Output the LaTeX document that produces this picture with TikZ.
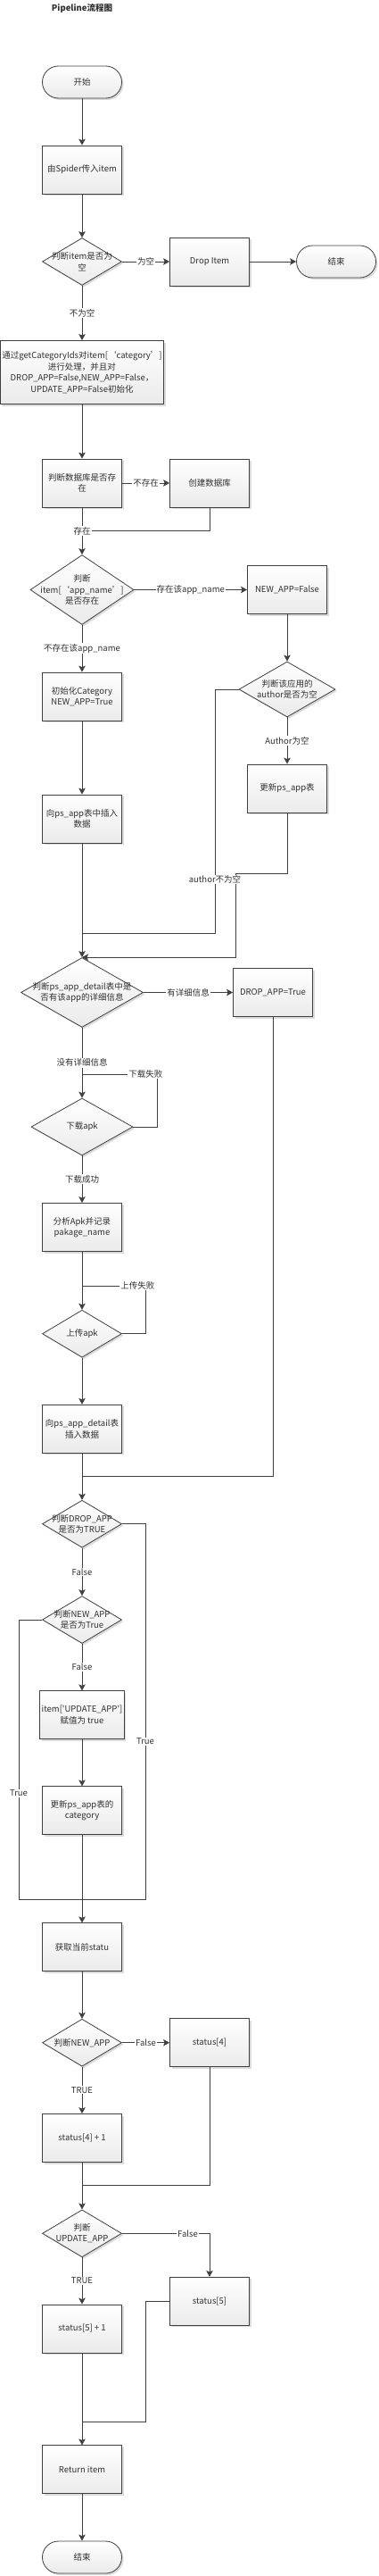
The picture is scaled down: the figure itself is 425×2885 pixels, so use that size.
\documentclass[tikz,border=0pt]{standalone}
\usepackage{fontspec}
\newfontfamily\cjk{Noto Sans CJK SC}
\usepackage{tikz}
\usetikzlibrary{positioning, arrows.meta, calc, shapes.geometric, shadows}

\definecolor{lineclr}{HTML}{404040}
\definecolor{txtclr}{HTML}{303030}

\begin{document}
\begin{tikzpicture}[x=1pt, y=-1pt,
        every node/.style={font=\cjk\fontsize{9.5}{12.5}\selectfont, text=txtclr},
        box/.style={rectangle, draw=lineclr, line width=0.8pt, top color=white, bottom color=black!8,
            minimum width=89pt, minimum height=54pt, inner sep=2pt, align=center,
            drop shadow={shadow xshift=2pt, shadow yshift=-2pt, fill=black!14, opacity=1}},
        terminal/.style={box, rounded corners=18pt, minimum height=36pt},
        decision/.style={box, diamond, minimum height=53pt, inner xsep=-30pt, inner ysep=-4pt},
        lbl/.style={fill=white, inner sep=1pt},
        link/.style={draw=lineclr, line width=0.8pt},
        flow/.style={link, -{Stealth[length=7pt, width=7.5pt, inset=1.5pt]}},
    ]
    \useasboundingbox (0,0) rectangle (425,2885);
    \node[font=\cjk\bfseries\fontsize{9.5}{12.5}\selectfont] (title) at (92,9) {Pipeline流程图};

    % Top part
    \node[terminal] (start) at (92,92) {开始};
    \node[box] (spider) at (92,190) {由Spider传入item};
    \node[decision] (isEmpty) at (92,293) {判断item是否为\\空};
    \node[box] (dropItem) at (235,293) {Drop Item};
    \node[terminal] (endA) at (377,293) {结束};
    \node[box, minimum width=182pt, minimum height=71pt] (initFlags) at (92,417)
        {通过getCategoryIds对item[‘category’]\\进行处理，并且对\\DROP\_APP=False,NEW\_APP=False，\\UPDATE\_APP=False初始化};

    % Database and app_name
    \node[box] (dbCheck) at (92,541) {判断数据库是否存\\在};
    \node[box] (dbCreate) at (235,541) {创建数据库};
    \node[decision, minimum width=116pt, minimum height=78pt] (nameCheck) at (92,660.5) {判断\\item[‘app\_name’]\\是否存在};
    \node[box] (newFalse) at (322,660.5) {NEW\_APP=False};
    \node[box] (initCat) at (92,780) {初始化Category\\NEW\_APP=True};
    \node[box] (insertApp) at (92,917) {向ps\_app表中插入\\数据};
    \node[decision, minimum width=108pt, minimum height=62pt] (authorCheck) at (322,772) {判断该应用的\\author是否为空};
    \node[box] (updateApp) at (322,883) {更新ps\_app表};

    % Detail, download, upload
    \node[decision, minimum width=137pt, minimum height=78pt] (detailCheck) at (92,1111.5) {判断ps\_app\_detail表中是\\否有该app的详细信息};
    \node[box] (dropTrue) at (306,1111.5) {DROP\_APP=True};
    \node[decision, minimum width=114pt, minimum height=64pt] (download) at (92,1262) {下载apk};
    \node[box] (parseApk) at (92,1374.5) {分析Apk并记录\\pakage\_name};
    \node[decision] (upload) at (92,1493.7) {上传apk};
    \node[box] (insertDetail) at (92,1600.3) {向ps\_app\_detail表\\插入数据};

    % Flags
    \node[decision] (dropCheck) at (92,1706.7) {判断DROP\_APP\\是否为TRUE};
    \node[decision] (newCheck) at (92,1814) {判断NEW\_APP\\是否为True};
    \node[box] (setUpdate) at (92,1920.8) {item['UPDATE\_APP']\\赋值为 true};
    \node[box] (updateCat) at (92,2027.8) {更新ps\_app表的\\category};

    % Status
    \node[box] (getStatu) at (92,2180.8) {获取当前statu};
    \node[decision] (newCheckB) at (92,2287.7) {判断NEW\_APP};
    \node[box] (statusFour) at (235,2287.7) {status[4]};
    \node[box] (statusFourInc) at (92,2394.5) {status[4] + 1};
    \node[decision] (updCheck) at (92,2501.3) {判断\\UPDATE\_APP};
    \node[box] (statusFive) at (235,2577.3) {status[5]};
    \node[box] (statusFiveInc) at (92,2608) {status[5] + 1};
    \node[box] (retItem) at (92,2765.8) {Return item};
    \node[terminal] (endB) at (92,2864) {结束};

    % Bends and joins
    \coordinate (dbJoin) at (92,594);
    \coordinate (uBend) at (264,978);
    \coordinate (aBend) at (241,1045);
    \coordinate (aJoin) at (92,1045);
    \coordinate (dlBend) at (176,1203);
    \coordinate (dlJoin) at (92,1203);
    \coordinate (upBend) at (163,1440);
    \coordinate (upJoin) at (92,1440);
    \coordinate (dtJoin) at (92,1653);
    \coordinate (dcBend) at (163,2127);
    \coordinate (ncBend) at (21,2127);
    \coordinate (dcJoin) at (92,2127);
    \coordinate (s4Join) at (92,2447);
    \coordinate (s5Bend) at (163,2712);
    \coordinate (s5Join) at (92,2712);

    % Connectors
    \draw[flow] (start.south) -- (spider.north);
    \draw[flow] (spider.south) -- (isEmpty.north);
    \draw[flow] (isEmpty.east) -- node[lbl] {为空} (dropItem.west);
    \draw[flow] (dropItem.east) -- (endA.west);
    \draw[flow] (isEmpty.south) -- node[lbl] {不为空} (initFlags.north);
    \draw[flow] (initFlags.south) -- (dbCheck.north);
    \draw[flow] (dbCheck.east) -- node[lbl] {不存在} (dbCreate.west);
    \draw[link] (dbCreate.south) |- (dbJoin);
    \draw[flow] (dbCheck.south) -- node[lbl] {存在} (nameCheck.north);
    \draw[flow] (nameCheck.east) -- node[lbl] {存在该app\_name} (newFalse.west);
    \draw[flow] (nameCheck.south) -- node[lbl] {不存在该app\_name} (initCat.north);
    \draw[flow] (initCat.south) -- (insertApp.north);
    \draw[flow] (newFalse.south) -- (authorCheck.north);
    \draw[flow] (authorCheck.south) -- node[lbl] {Author为空} (updateApp.north);
    \draw[flow] (insertApp.south) -- (detailCheck.north);
    \draw[flow] (updateApp.south) |- (uBend) |- (detailCheck.north);
    \draw[link] (authorCheck.west) -| node[lbl, pos=0.89] {author不为空} (aBend) -- (aJoin);
    \draw[flow] (detailCheck.east) -- node[lbl] {有详细信息} (dropTrue.west);
    \draw[flow] (detailCheck.south) -- node[lbl] {没有详细信息} (download.north);
    \draw[link] (download.east) -| (dlBend) -- node[lbl, pos=0.15] {下载失败} (dlJoin);
    \draw[flow] (download.south) -- node[lbl] {下载成功} (parseApk.north);
    \draw[flow] (parseApk.south) -- (upload.north);
    \draw[link] (upload.east) -| (upBend) -- node[lbl, pos=0.12] {上传失败} (upJoin);
    \draw[flow] (upload.south) -- (insertDetail.north);
    \draw[flow] (insertDetail.south) -- (dropCheck.north);
    \draw[link] (dropTrue.south) |- (dtJoin);
    \draw[flow] (dropCheck.south) -- node[lbl] {False} (newCheck.north);
    \draw[link] (dropCheck.east) -| node[lbl, pos=0.79] {True} (dcBend) -- (dcJoin);
    \draw[link] (newCheck.west) -| node[lbl, pos=0.81] {True} (ncBend) -- (dcJoin);
    \draw[flow] (newCheck.south) -- node[lbl] {False} (setUpdate.north);
    \draw[flow] (setUpdate.south) -- (updateCat.north);
    \draw[flow] (updateCat.south) -- (getStatu.north);
    \draw[flow] (getStatu.south) -- (newCheckB.north);
    \draw[flow] (newCheckB.east) -- node[lbl] {False} (statusFour.west);
    \draw[flow] (newCheckB.south) -- node[lbl] {TRUE} (statusFourInc.north);
    \draw[link] (statusFour.south) |- (s4Join);
    \draw[flow] (statusFourInc.south) -- (updCheck.north);
    \draw[flow] (updCheck.east) -| node[lbl, pos=0.375] {False} (statusFive.north);
    \draw[flow] (updCheck.south) -- node[lbl] {TRUE} (statusFiveInc.north);
    \draw[link] (statusFive.west) -| (s5Bend) -- (s5Join);
    \draw[flow] (statusFiveInc.south) -- (retItem.north);
    \draw[flow] (retItem.south) -- (endB.north);
\end{tikzpicture}
\end{document}
